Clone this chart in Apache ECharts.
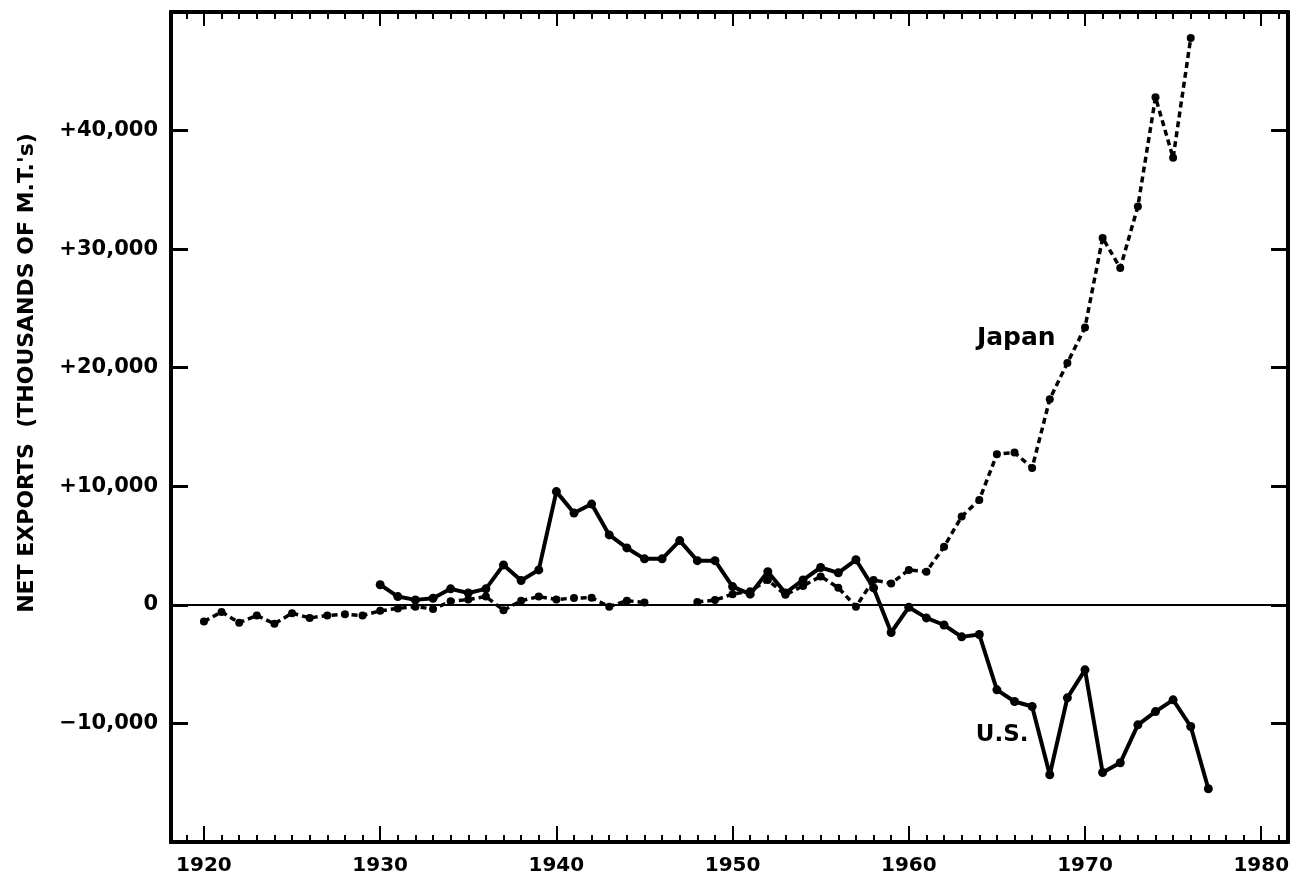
<!DOCTYPE html>
<html>
<head>
<meta charset="utf-8">
<script src="https://cdn.jsdelivr.net/npm/echarts@6/dist/echarts.min.js"></script>
<style>
  html, body { margin: 0; padding: 0; background: #fff; }
  #chart { width: 1294px; height: 881px; }
</style>
</head>
<body>
<div id="chart"></div>
<script>
// years and net exports (thousands of metric tons)
var japanYears = [1920, 1921, 1922, 1923, 1924, 1925, 1926, 1927, 1928, 1929,
  1930, 1931, 1932, 1933, 1934, 1935, 1936, 1937, 1938, 1939,
  1940, 1941, 1942, 1943, 1944, 1945, 1946, 1947, 1948, 1949,
  1950, 1951, 1952, 1953, 1954, 1955, 1956, 1957, 1958, 1959,
  1960, 1961, 1962, 1963, 1964, 1965, 1966, 1967, 1968, 1969,
  1970, 1971, 1972, 1973, 1974, 1975, 1976];
var japanValues = [-1400, -600, -1500, -900, -1600, -700, -1100, -900, -800, -900,
  -500, -300, -150, -350, 300, 450, 700, -450, 350, 700,
  450, 580, 600, -150, 350, 200, null, null, 250, 400,
  900, 1150, 2100, 850, 1600, 2400, 1450, -150, 2100, 1800,
  2950, 2800, 4900, 7450, 8850, 12700, 12850, 11550, 17350, 20400,
  23400, 30950, 28400, 33600, 42800, 37700, 47800];

var usYears = [1930, 1931, 1932, 1933, 1934, 1935, 1936, 1937, 1938, 1939,
  1940, 1941, 1942, 1943, 1944, 1945, 1946, 1947, 1948, 1949,
  1950, 1951, 1952, 1953, 1954, 1955, 1956, 1957, 1958, 1959,
  1960, 1961, 1962, 1963, 1964, 1965, 1966, 1967, 1968, 1969,
  1970, 1971, 1972, 1973, 1974, 1975, 1976, 1977];
var usValues = [1700, 700, 420, 560, 1350, 1000, 1350, 3370, 2050, 2950,
  9550, 7750, 8500, 5900, 4800, 3880, 3880, 5420, 3730, 3730,
  1540, 900, 2800, 1000, 2100, 3150, 2700, 3800, 1430, -2330,
  -200, -1100, -1700, -2700, -2500, -7170, -8150, -8570, -14330, -7840,
  -5480, -14140, -13320, -10120, -9000, -8010, -10260, -15510];

var decadeTicks = [1920, 1930, 1940, 1950, 1960, 1970, 1980];
var yearTicks = [];
for (var y = 1919; y <= 1981; y++) yearTicks.push(y);
var yLabelValues = [-10000, 0, 10000, 20000, 30000, 40000];

var xMin = 1918.13, xMax = 1981.52;
var black = "#000";
var fontFamily = "DejaVu Sans";

function pair(xs, vs) {
  return xs.map(function (x, i) { return [x, vs[i]]; });
}

function fmtY(v) {
  if (v === 0) return "0";
  var s = Math.abs(v).toString().replace(/\B(?=(\d{3})+(?!\d))/g, ",");
  return (v > 0 ? "+" : "\u2212") + s;
}

// one x axis: position, tick values, tick length, with/without labels
function xAxisDef(pos, ticks, len, labels) {
  return {
    type: "value",
    position: pos,
    min: xMin,
    max: xMax,
    axisLine: { show: true, onZero: false, lineStyle: { color: black, width: 4 } },
    axisTick: {
      show: true, inside: true, length: len, customValues: ticks,
      lineStyle: { color: black, width: 2 },
    },
    axisLabel: labels
      ? {
          show: true, customValues: decadeTicks, margin: 14,
          color: black, fontSize: 20, fontWeight: "bold", fontFamily: fontFamily,
          formatter: function (v) { return String(Math.round(v)); },
        }
      : { show: false },
    splitLine: { show: false },
  };
}

// y axis; labelled one carries no ticks, ticks come from the plain copies
function yAxisDef(pos, labels) {
  return {
    type: "value",
    position: pos,
    min: -20000,
    max: 50000,
    interval: 10000,
    axisLine: { show: true, onZero: false, lineStyle: { color: black, width: 4 } },
    axisTick: { show: !labels, inside: true, length: 17, lineStyle: { color: black, width: 3 } },
    axisLabel: labels
      ? {
          show: true, customValues: yLabelValues, margin: 13,
          color: black, fontSize: 21, fontWeight: "bold", fontFamily: fontFamily,
          formatter: fmtY,
        }
      : { show: false },
    splitLine: { show: false },
  };
}

var chart = echarts.init(document.getElementById("chart"));
chart.setOption({
  animation: false,
  backgroundColor: "#fff",
  grid: { left: 171, right: 6, top: 12, bottom: 39 },
  xAxis: [
    xAxisDef("bottom", yearTicks, 7, false),
    xAxisDef("bottom", decadeTicks, 16, true),
    xAxisDef("top", yearTicks, 7, false),
    xAxisDef("top", decadeTicks, 14, false),
  ],
  yAxis: [yAxisDef("left", true), yAxisDef("left", false), yAxisDef("right", false)],
  graphic: [
    {
      type: "text",
      x: 27,
      y: 373,
      rotation: Math.PI / 2,
      style: {
        text: "NET EXPORTS  (THOUSANDS OF M.T.'s)",
        fill: black,
        font: "bold 22px " + fontFamily,
        textAlign: "center",
        textVerticalAlign: "middle",
      },
    },
  ],
  series: [
    {
      name: "U.S.",
      type: "line",
      xAxisIndex: 0,
      yAxisIndex: 0,
      data: pair(usYears, usValues),
      symbol: "circle",
      symbolSize: 9,
      showAllSymbol: true,
      lineStyle: { color: black, width: 4 },
      itemStyle: { color: black },
      markLine: {
        silent: true,
        symbol: "none",
        label: { show: false },
        lineStyle: { color: black, width: 2, type: "solid" },
        data: [{ yAxis: 0 }],
      },
      markPoint: {
        symbol: "circle",
        symbolSize: 1,
        itemStyle: { color: "rgba(0,0,0,0)" },
        label: {
          show: true, position: "inside", color: black,
          fontSize: 23, fontWeight: "bold", fontFamily: fontFamily,
          formatter: "U.S.",
        },
        data: [{ coord: [1965.3, -11000] }],
      },
      z: 3,
    },
    {
      name: "Japan",
      type: "line",
      xAxisIndex: 0,
      yAxisIndex: 0,
      data: pair(japanYears, japanValues),
      connectNulls: false,
      symbol: "circle",
      symbolSize: 8,
      showAllSymbol: true,
      lineStyle: { color: black, width: 3.5, type: [6, 4] },
      itemStyle: { color: black },
      markPoint: {
        symbol: "circle",
        symbolSize: 1,
        itemStyle: { color: "rgba(0,0,0,0)" },
        label: {
          show: true, position: "inside", color: black,
          fontSize: 25, fontWeight: "bold", fontFamily: fontFamily,
          formatter: "Japan",
        },
        data: [{ coord: [1966.1, 22500] }],
      },
      z: 3,
    },
  ],
});
</script>
</body>
</html>
